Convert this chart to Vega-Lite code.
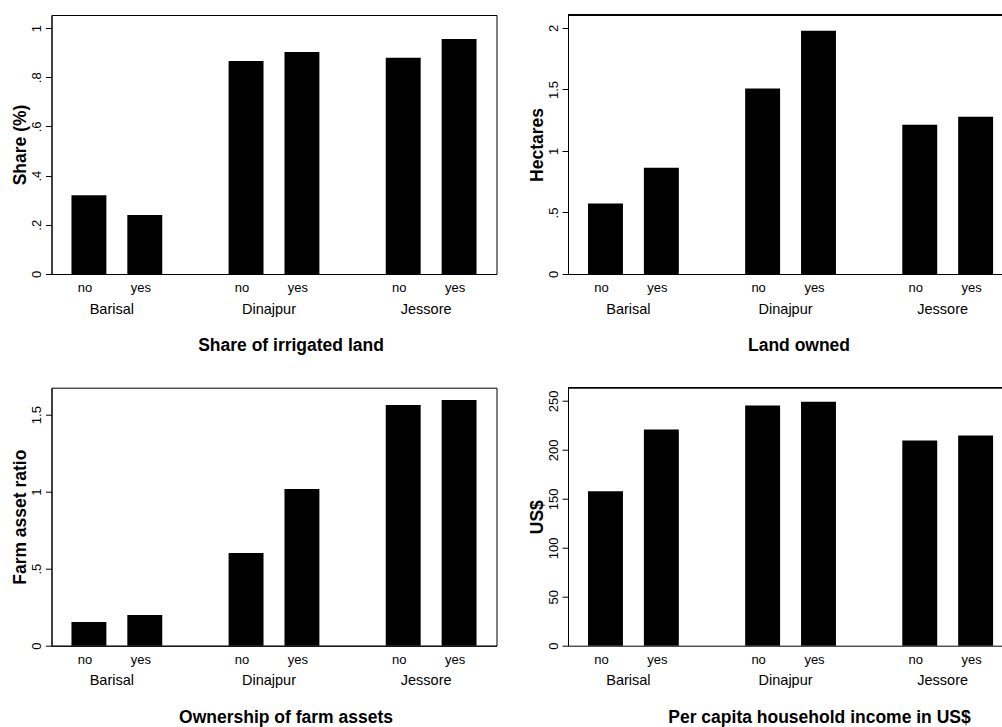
{
  "$schema": "https://vega.github.io/schema/vega-lite/v6.json",
  "padding": {"left": 10.5, "top": 14, "right": 0, "bottom": 0},
  "background": "white",
  "config": {
    "font": "Liberation Sans",
    "view": {"stroke": "black", "strokeWidth": 1},
    "axis": {
      "labelFont": "Liberation Sans", "titleFont": "Liberation Sans",
      "labelColor": "black", "titleColor": "black", "domainColor": "black", "tickColor": "black",
      "grid": false, "titleFontWeight": "bold", "titleFontSize": 17.5
    },
    "axisY": {"labelAngle": -90, "tickSize": 6, "labelPadding": 2, "labelFontSize": 13, "minExtent": 22, "maxExtent": 22, "titlePadding": 0, "labelOverlap": false},
    "axisX": {"ticks": false, "tickSize": 0, "labelAngle": 0, "labelFontSize": 14.5, "labelPadding": 28, "labelOffset": -5, "titlePadding": 21}
  },
  "datasets": {
    "d": [
      {"panel": "irrigated", "region": "Barisal", "group": "no", "value": 0.32},
      {"panel": "irrigated", "region": "Barisal", "group": "yes", "value": 0.24},
      {"panel": "irrigated", "region": "Dinajpur", "group": "no", "value": 0.866},
      {"panel": "irrigated", "region": "Dinajpur", "group": "yes", "value": 0.903},
      {"panel": "irrigated", "region": "Jessore", "group": "no", "value": 0.879},
      {"panel": "irrigated", "region": "Jessore", "group": "yes", "value": 0.955},
      {"panel": "land", "region": "Barisal", "group": "no", "value": 0.572},
      {"panel": "land", "region": "Barisal", "group": "yes", "value": 0.864},
      {"panel": "land", "region": "Dinajpur", "group": "no", "value": 1.507},
      {"panel": "land", "region": "Dinajpur", "group": "yes", "value": 1.978},
      {"panel": "land", "region": "Jessore", "group": "no", "value": 1.214},
      {"panel": "land", "region": "Jessore", "group": "yes", "value": 1.279},
      {"panel": "assets", "region": "Barisal", "group": "no", "value": 0.154},
      {"panel": "assets", "region": "Barisal", "group": "yes", "value": 0.199},
      {"panel": "assets", "region": "Dinajpur", "group": "no", "value": 0.602},
      {"panel": "assets", "region": "Dinajpur", "group": "yes", "value": 1.017},
      {"panel": "assets", "region": "Jessore", "group": "no", "value": 1.563},
      {"panel": "assets", "region": "Jessore", "group": "yes", "value": 1.595},
      {"panel": "income", "region": "Barisal", "group": "no", "value": 157.7},
      {"panel": "income", "region": "Barisal", "group": "yes", "value": 220.8},
      {"panel": "income", "region": "Dinajpur", "group": "no", "value": 245.2},
      {"panel": "income", "region": "Dinajpur", "group": "yes", "value": 249.2},
      {"panel": "income", "region": "Jessore", "group": "no", "value": 209.6},
      {"panel": "income", "region": "Jessore", "group": "yes", "value": 214.7}
    ]
  },
  "spacing": 31.7,
  "vconcat": [
    {
      "spacing": 30.5,
      "hconcat": [
        {
          "width": 445, "height": 259,
          "data": {"name": "d"},
          "transform": [{"filter": "datum.panel === 'irrigated'"}],
          "encoding": {
            "x": {"field": "region", "type": "nominal", "sort": ["Barisal", "Dinajpur", "Jessore"],
                  "scale": {"paddingInner": 0.4222, "paddingOuter": 0.127},
                  "axis": {"title": "Share of irrigated land", "titleX": 239}},
            "xOffset": {"field": "group", "type": "nominal", "sort": ["no", "yes"], "scale": {"paddingInner": 0.375, "paddingOuter": 0}},
            "y": {"field": "value", "type": "quantitative", "scale": {"domain": [0, 1.053], "nice": false},
                  "axis": {"title": "Share (%)", "values": [0, 0.2, 0.4, 0.6, 0.8, 1],
                           "labelExpr": "datum.value > 0 && datum.value < 1 ? replace(format(datum.value, '~g'), '0.', '.') : format(datum.value, '~g')"}}
          },
          "layer": [
            {"mark": {"type": "bar", "color": "black"}},
            {"mark": {"type": "text", "fontSize": 13, "baseline": "alphabetic", "dy": 18, "dx": -4, "color": "black", "font": "Liberation Sans"},
             "encoding": {"y": {"datum": 0, "type": "quantitative"}, "text": {"field": "group"}}}
          ]
        },
        {
          "width": 437, "height": 259,
          "view": {"stroke": null},
          "data": {"name": "d"},
          "transform": [{"filter": "datum.panel === 'land'"}],
          "layer": [
            {"mark": {"type": "bar", "color": "black"},
             "encoding": {
               "x": {"field": "region", "type": "nominal", "sort": ["Barisal", "Dinajpur", "Jessore"],
                     "scale": {"paddingInner": 0.4222, "paddingOuter": 0.1016, "align": 0.627},
                     "axis": {"title": "Land owned", "titleX": 230.5}},
               "xOffset": {"field": "group", "type": "nominal", "sort": ["no", "yes"], "scale": {"paddingInner": 0.375, "paddingOuter": 0}},
               "y": {"field": "value", "type": "quantitative", "scale": {"domain": [0, 2.105], "nice": false},
                     "axis": {"title": "Hectares", "values": [0, 0.5, 1, 1.5, 2],
                              "labelExpr": "datum.value > 0 && datum.value < 1 ? replace(format(datum.value, '~g'), '0.', '.') : format(datum.value, '~g')"}}
             }},
            {"mark": {"type": "text", "fontSize": 13, "baseline": "alphabetic", "dy": 18, "dx": -4, "color": "black", "font": "Liberation Sans"},
             "encoding": {
               "x": {"field": "region", "type": "nominal", "sort": ["Barisal", "Dinajpur", "Jessore"]},
               "xOffset": {"field": "group", "type": "nominal", "sort": ["no", "yes"]},
               "y": {"datum": 0, "type": "quantitative"}, "text": {"field": "group"}}},
            {"mark": {"type": "rule", "color": "black", "strokeWidth": 1},
             "encoding": {"y": {"datum": 2.105, "type": "quantitative"}}}
          ]
        }
      ]
    },
    {
      "spacing": 30.5,
      "hconcat": [
        {
          "width": 445, "height": 258,
          "data": {"name": "d"},
          "transform": [{"filter": "datum.panel === 'assets'"}],
          "encoding": {
            "x": {"field": "region", "type": "nominal", "sort": ["Barisal", "Dinajpur", "Jessore"],
                  "scale": {"paddingInner": 0.4222, "paddingOuter": 0.127},
                  "axis": {"title": "Ownership of farm assets", "titleX": 234}},
            "xOffset": {"field": "group", "type": "nominal", "sort": ["no", "yes"], "scale": {"paddingInner": 0.375, "paddingOuter": 0}},
            "y": {"field": "value", "type": "quantitative", "scale": {"domain": [0, 1.675], "nice": false},
                  "axis": {"title": "Farm asset ratio", "values": [0, 0.5, 1, 1.5],
                           "labelExpr": "datum.value > 0 && datum.value < 1 ? replace(format(datum.value, '~g'), '0.', '.') : format(datum.value, '~g')"}}
          },
          "layer": [
            {"mark": {"type": "bar", "color": "black"}},
            {"mark": {"type": "text", "fontSize": 13, "baseline": "alphabetic", "dy": 18, "dx": -4, "color": "black", "font": "Liberation Sans"},
             "encoding": {"y": {"datum": 0, "type": "quantitative"}, "text": {"field": "group"}}}
          ]
        },
        {
          "width": 437, "height": 258,
          "view": {"stroke": null},
          "data": {"name": "d"},
          "transform": [{"filter": "datum.panel === 'income'"}],
          "layer": [
            {"mark": {"type": "bar", "color": "black"},
             "encoding": {
               "x": {"field": "region", "type": "nominal", "sort": ["Barisal", "Dinajpur", "Jessore"],
                     "scale": {"paddingInner": 0.4222, "paddingOuter": 0.1016, "align": 0.627},
                     "axis": {"title": "Per capita household income in US$", "titleX": 251}},
               "xOffset": {"field": "group", "type": "nominal", "sort": ["no", "yes"], "scale": {"paddingInner": 0.375, "paddingOuter": 0}},
               "y": {"field": "value", "type": "quantitative", "scale": {"domain": [0, 263.5], "nice": false},
                     "axis": {"title": "US$", "values": [0, 50, 100, 150, 200, 250], "format": "d"}}
             }},
            {"mark": {"type": "text", "fontSize": 13, "baseline": "alphabetic", "dy": 18, "dx": -4, "color": "black", "font": "Liberation Sans"},
             "encoding": {
               "x": {"field": "region", "type": "nominal", "sort": ["Barisal", "Dinajpur", "Jessore"]},
               "xOffset": {"field": "group", "type": "nominal", "sort": ["no", "yes"]},
               "y": {"datum": 0, "type": "quantitative"}, "text": {"field": "group"}}},
            {"mark": {"type": "rule", "color": "black", "strokeWidth": 1},
             "encoding": {"y": {"datum": 263.5, "type": "quantitative"}}}
          ]
        }
      ]
    }
  ]
}
